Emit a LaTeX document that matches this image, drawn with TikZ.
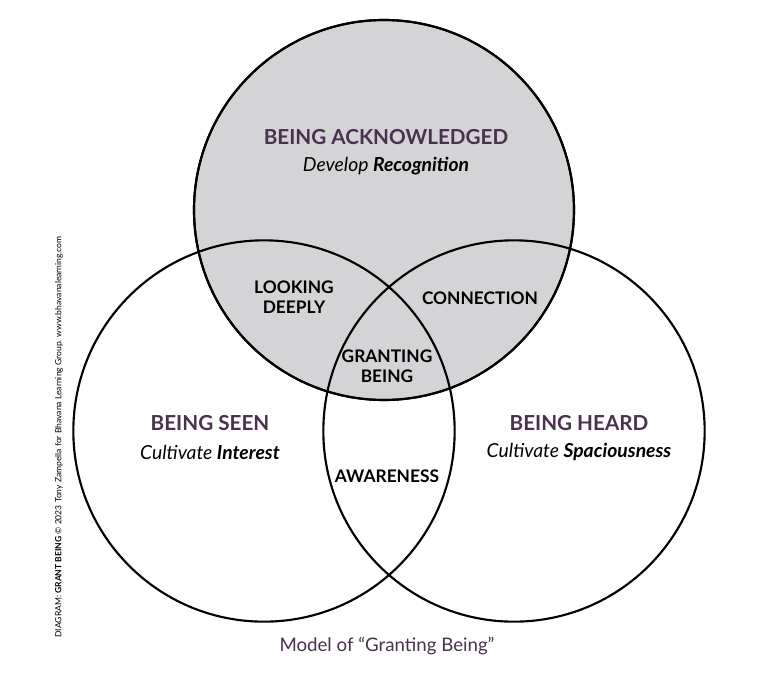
\documentclass[tikz,border=0pt]{standalone}
\usepackage{fontspec}
\setmainfont{Lato}
\definecolor{ttl}{HTML}{4A3150}
\definecolor{gfill}{HTML}{D4D4D6}
\begin{document}
\begin{tikzpicture}[x=0.75pt,y=-0.75pt,
  circ/.style={draw=black,line width=1.6pt},
  head/.style={font=\bfseries\fontsize{15.5}{17}\selectfont,text=ttl},
  sub/.style={font=\itshape\fontsize{14.5}{16}\selectfont},
  lab/.style={font=\bfseries\fontsize{13}{15}\selectfont,align=center},
  lab/.append style={inner sep=1pt}]
\useasboundingbox (0,0) rectangle (768,672);
\fill[white] (0,0) rectangle (768,672);
\path[circ,fill=gfill] (384,210) circle[radius=142.5pt];
\path[circ] (264,431) circle[radius=143pt];
\path[circ] (514,431) circle[radius=143pt];
\path[circ] (384,210) circle[radius=142.5pt];
\node[head] (ba) at (386,137) {BEING ACKNOWLEDGED};
\node[sub] (dr) at (386,166) {Develop \textbf{Recognition}};
\node[head] (bs) at (210,423) {BEING SEEN};
\node[sub] (ci) at (210,452) {Cultivate \textbf{Interest}};
\node[head] (bh) at (579,423) {BEING HEARD};
\node[sub] (cs) at (579,452) {Cultivate \textbf{Spaciousness}};
\node[lab] (ld) at (294,297) {LOOKING\\DEEPLY};
\node[lab] (cn) at (480,298) {CONNECTION};
\node[lab] (gb) at (387,366) {GRANTING\\BEING};
\node[lab] (aw) at (387,476) {AWARENESS};
\node[font=\fontsize{14}{16}\selectfont,text=ttl] (ttl) at (387,646) {Model of “Granting Being”};
\node[font=\fontsize{6.4}{7}\selectfont,rotate=90,anchor=center] (cr) at (59,437) {DIAGRAM: \textbf{GRANT BEING} © 2023 Tony Zampella for Bhavana Learning Group. www.bhavanalearning.com};
\end{tikzpicture}
\end{document}
